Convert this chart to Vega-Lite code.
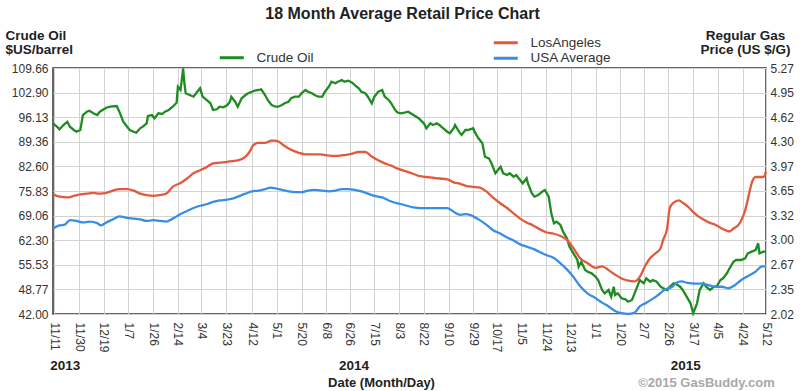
{
  "$schema": "https://vega.github.io/schema/vega-lite/v6.json",
  "width": 713,
  "height": 246,
  "autosize": {"type": "none"},
  "padding": {"left": 53, "top": 68, "right": 34, "bottom": 77},
  "config": {
    "font": "Liberation Sans, Arial, sans-serif",
    "view": {"stroke": "#333333", "strokeWidth": 1.5},
    "axis": {"labelFontSize": 12, "labelColor": "#333333", "domain": false, "ticks": false, "gridColor": "#d2d2d2", "gridWidth": 1, "titleColor": "#222222"},
    "legend": {"padding": 0}
  },
  "title": {"text": "18 Month Average Retail Price Chart", "fontSize": 16, "fontWeight": "bold", "color": "#222222", "anchor": "middle", "frame": "group", "dx": -7, "offset": 6},
  "datasets": {
    "crude": [
      {"date":"2013-11-10","price":94.45},{"date":"2013-11-13","price":93.52},{"date":"2013-11-15","price":92.80},{"date":"2013-11-18","price":93.98},{"date":"2013-11-21","price":94.89},{"date":"2013-11-23","price":93.52},{"date":"2013-11-26","price":92.61},{"date":"2013-11-28","price":92.14},{"date":"2013-12-01","price":92.61},{"date":"2013-12-03","price":96.73},{"date":"2013-12-06","price":97.64},{"date":"2013-12-08","price":97.92},{"date":"2013-12-11","price":97.20},{"date":"2013-12-14","price":96.73},{"date":"2013-12-16","price":97.64},{"date":"2013-12-19","price":98.30},{"date":"2013-12-21","price":98.74},{"date":"2013-12-24","price":99.02},{"date":"2013-12-29","price":99.21},{"date":"2013-12-31","price":97.64},
      {"date":"2014-01-03","price":94.89},{"date":"2014-01-06","price":93.52},{"date":"2014-01-08","price":92.61},{"date":"2014-01-11","price":92.14},{"date":"2014-01-13","price":91.86},{"date":"2014-01-16","price":93.08},{"date":"2014-01-18","price":93.52},{"date":"2014-01-21","price":94.45},{"date":"2014-01-22","price":96.46},{"date":"2014-01-25","price":96.73},{"date":"2014-01-27","price":95.83},{"date":"2014-01-30","price":97.20},{"date":"2014-02-02","price":97.01},{"date":"2014-02-04","price":97.64},{"date":"2014-02-07","price":98.11},{"date":"2014-02-10","price":99.02},{"date":"2014-02-13","price":100.12},{"date":"2014-02-14","price":104.52},{"date":"2014-02-16","price":103.61},{"date":"2014-02-17","price":106.36},{"date":"2014-02-18","price":109.58},{"date":"2014-02-19","price":105.45},{"date":"2014-02-20","price":102.70},{"date":"2014-02-23","price":102.23},{"date":"2014-02-26","price":101.77},{"date":"2014-02-28","price":102.70},
      {"date":"2014-03-03","price":104.08},{"date":"2014-03-05","price":101.77},{"date":"2014-03-08","price":100.86},{"date":"2014-03-11","price":99.95},{"date":"2014-03-13","price":98.11},{"date":"2014-03-16","price":98.30},{"date":"2014-03-18","price":99.02},{"date":"2014-03-21","price":98.85},{"date":"2014-03-24","price":99.48},{"date":"2014-03-26","price":100.39},{"date":"2014-03-27","price":101.77},{"date":"2014-03-30","price":100.39},{"date":"2014-04-01","price":99.02},{"date":"2014-04-04","price":101.33},{"date":"2014-04-07","price":102.23},{"date":"2014-04-09","price":102.70},{"date":"2014-04-12","price":103.14},{"date":"2014-04-14","price":103.42},{"date":"2014-04-17","price":103.61},{"date":"2014-04-19","price":103.80},{"date":"2014-04-22","price":102.23},{"date":"2014-04-24","price":100.86},{"date":"2014-04-27","price":99.48},{"date":"2014-04-30","price":99.02},
      {"date":"2014-05-02","price":99.02},{"date":"2014-05-05","price":99.48},{"date":"2014-05-07","price":99.95},{"date":"2014-05-10","price":100.39},{"date":"2014-05-12","price":101.33},{"date":"2014-05-15","price":101.77},{"date":"2014-05-18","price":101.77},{"date":"2014-05-20","price":102.70},{"date":"2014-05-23","price":103.61},{"date":"2014-05-25","price":103.14},{"date":"2014-05-28","price":102.70},{"date":"2014-05-30","price":102.23},{"date":"2014-06-02","price":101.77},{"date":"2014-06-05","price":101.77},{"date":"2014-06-07","price":103.14},{"date":"2014-06-10","price":104.52},{"date":"2014-06-12","price":105.89},{"date":"2014-06-15","price":105.45},{"date":"2014-06-17","price":105.89},{"date":"2014-06-20","price":106.36},{"date":"2014-06-22","price":105.89},{"date":"2014-06-25","price":106.17},{"date":"2014-06-28","price":105.62},{"date":"2014-06-30","price":104.98},
      {"date":"2014-07-03","price":104.08},{"date":"2014-07-05","price":103.14},{"date":"2014-07-08","price":102.70},{"date":"2014-07-10","price":101.77},{"date":"2014-07-13","price":99.95},{"date":"2014-07-15","price":101.77},{"date":"2014-07-18","price":103.14},{"date":"2014-07-21","price":103.61},{"date":"2014-07-23","price":101.77},{"date":"2014-07-26","price":100.86},{"date":"2014-07-28","price":99.95},{"date":"2014-07-31","price":98.11},{"date":"2014-08-02","price":97.37},{"date":"2014-08-05","price":97.20},{"date":"2014-08-10","price":97.64},{"date":"2014-08-14","price":96.73},{"date":"2014-08-18","price":95.83},{"date":"2014-08-22","price":94.45},{"date":"2014-08-24","price":93.08},{"date":"2014-08-27","price":94.45},{"date":"2014-08-29","price":93.98},
      {"date":"2014-09-01","price":94.45},{"date":"2014-09-03","price":93.98},{"date":"2014-09-06","price":93.08},{"date":"2014-09-09","price":92.14},{"date":"2014-09-11","price":91.70},{"date":"2014-09-14","price":93.08},{"date":"2014-09-15","price":93.98},{"date":"2014-09-18","price":92.14},{"date":"2014-09-20","price":91.23},{"date":"2014-09-23","price":92.61},{"date":"2014-09-25","price":92.61},{"date":"2014-09-29","price":93.08},{"date":"2014-09-30","price":92.14},{"date":"2014-10-03","price":90.32},{"date":"2014-10-06","price":88.95},{"date":"2014-10-08","price":85.26},{"date":"2014-10-11","price":84.82},{"date":"2014-10-13","price":83.45},{"date":"2014-10-16","price":80.70},{"date":"2014-10-18","price":81.61},{"date":"2014-10-20","price":82.51},{"date":"2014-10-22","price":80.70},{"date":"2014-10-25","price":80.23},{"date":"2014-10-27","price":80.70},{"date":"2014-10-30","price":79.76},
      {"date":"2014-11-01","price":80.23},{"date":"2014-11-04","price":78.86},{"date":"2014-11-06","price":77.95},{"date":"2014-11-09","price":79.32},{"date":"2014-11-10","price":77.95},{"date":"2014-11-13","price":75.20},{"date":"2014-11-15","price":74.26},{"date":"2014-11-18","price":74.73},{"date":"2014-11-21","price":75.64},{"date":"2014-11-23","price":76.10},{"date":"2014-11-26","price":74.26},{"date":"2014-11-28","price":69.70},{"date":"2014-11-30","price":66.95},{"date":"2014-12-02","price":67.39},{"date":"2014-12-05","price":66.48},{"date":"2014-12-07","price":64.64},{"date":"2014-12-10","price":62.82},{"date":"2014-12-12","price":60.51},{"date":"2014-12-15","price":58.69},{"date":"2014-12-18","price":56.85},{"date":"2014-12-19","price":55.01},{"date":"2014-12-21","price":56.38},{"date":"2014-12-24","price":54.10},{"date":"2014-12-26","price":53.63},{"date":"2014-12-29","price":53.19},
      {"date":"2015-01-01","price":52.26},{"date":"2015-01-03","price":51.35},{"date":"2015-01-06","price":48.60},{"date":"2015-01-08","price":47.69},{"date":"2015-01-11","price":48.60},{"date":"2015-01-13","price":46.76},{"date":"2015-01-15","price":49.51},{"date":"2015-01-16","price":47.23},{"date":"2015-01-18","price":47.69},{"date":"2015-01-21","price":46.32},{"date":"2015-01-24","price":46.04},{"date":"2015-01-26","price":45.38},{"date":"2015-01-29","price":45.85},{"date":"2015-01-31","price":47.69},{"date":"2015-02-03","price":50.44},{"date":"2015-02-04","price":51.35},{"date":"2015-02-07","price":50.44},{"date":"2015-02-09","price":51.82},{"date":"2015-02-12","price":50.88},{"date":"2015-02-14","price":51.35},{"date":"2015-02-17","price":50.88},{"date":"2015-02-20","price":49.51},{"date":"2015-02-22","price":49.07},{"date":"2015-02-25","price":48.60},{"date":"2015-02-27","price":49.51},
      {"date":"2015-03-02","price":50.44},{"date":"2015-03-04","price":50.25},{"date":"2015-03-07","price":49.51},{"date":"2015-03-09","price":48.60},{"date":"2015-03-12","price":46.76},{"date":"2015-03-15","price":44.94},{"date":"2015-03-17","price":42.19},{"date":"2015-03-20","price":44.94},{"date":"2015-03-22","price":48.60},{"date":"2015-03-25","price":50.44},{"date":"2015-03-27","price":49.51},{"date":"2015-03-30","price":48.60},{"date":"2015-04-02","price":49.51},{"date":"2015-04-04","price":49.51},{"date":"2015-04-07","price":51.35},{"date":"2015-04-09","price":51.82},{"date":"2015-04-12","price":53.19},{"date":"2015-04-14","price":54.57},{"date":"2015-04-17","price":56.38},{"date":"2015-04-19","price":56.85},{"date":"2015-04-23","price":56.85},{"date":"2015-04-26","price":57.32},{"date":"2015-04-28","price":58.69},{"date":"2015-05-01","price":59.14},{"date":"2015-05-04","price":59.60},{"date":"2015-05-06","price":61.45},{"date":"2015-05-07","price":58.69},{"date":"2015-05-10","price":59.14},{"date":"2015-05-12","price":59.14}
    ],
    "gas": [
      {"date":"2013-11-10","series":"LosAngeles","price":3.60},{"date":"2013-11-15","series":"LosAngeles","price":3.57},{"date":"2013-11-21","series":"LosAngeles","price":3.56},{"date":"2013-11-26","series":"LosAngeles","price":3.58},{"date":"2013-12-01","series":"LosAngeles","price":3.60},{"date":"2013-12-06","series":"LosAngeles","price":3.61},{"date":"2013-12-11","series":"LosAngeles","price":3.62},{"date":"2013-12-16","series":"LosAngeles","price":3.61},{"date":"2013-12-21","series":"LosAngeles","price":3.62},{"date":"2013-12-26","series":"LosAngeles","price":3.65},{"date":"2013-12-31","series":"LosAngeles","price":3.67},
      {"date":"2014-01-06","series":"LosAngeles","price":3.67},{"date":"2014-01-11","series":"LosAngeles","price":3.65},{"date":"2014-01-16","series":"LosAngeles","price":3.61},{"date":"2014-01-21","series":"LosAngeles","price":3.59},{"date":"2014-01-26","series":"LosAngeles","price":3.58},{"date":"2014-01-31","series":"LosAngeles","price":3.59},{"date":"2014-02-05","series":"LosAngeles","price":3.61},{"date":"2014-02-10","series":"LosAngeles","price":3.70},{"date":"2014-02-16","series":"LosAngeles","price":3.75},{"date":"2014-02-21","series":"LosAngeles","price":3.81},{"date":"2014-02-26","series":"LosAngeles","price":3.88},{"date":"2014-03-03","series":"LosAngeles","price":3.92},{"date":"2014-03-08","series":"LosAngeles","price":3.96},{"date":"2014-03-13","series":"LosAngeles","price":4.01},{"date":"2014-03-18","series":"LosAngeles","price":4.02},{"date":"2014-03-24","series":"LosAngeles","price":4.03},{"date":"2014-03-27","series":"LosAngeles","price":4.04},
      {"date":"2014-04-01","series":"LosAngeles","price":4.05},{"date":"2014-04-07","series":"LosAngeles","price":4.10},{"date":"2014-04-10","series":"LosAngeles","price":4.16},{"date":"2014-04-13","series":"LosAngeles","price":4.25},{"date":"2014-04-17","series":"LosAngeles","price":4.28},{"date":"2014-04-22","series":"LosAngeles","price":4.28},{"date":"2014-04-27","series":"LosAngeles","price":4.31},{"date":"2014-04-30","series":"LosAngeles","price":4.31},{"date":"2014-05-02","series":"LosAngeles","price":4.30},{"date":"2014-05-07","series":"LosAngeles","price":4.24},{"date":"2014-05-12","series":"LosAngeles","price":4.19},{"date":"2014-05-18","series":"LosAngeles","price":4.15},{"date":"2014-05-23","series":"LosAngeles","price":4.13},{"date":"2014-05-28","series":"LosAngeles","price":4.13},{"date":"2014-06-02","series":"LosAngeles","price":4.13},{"date":"2014-06-07","series":"LosAngeles","price":4.12},{"date":"2014-06-12","series":"LosAngeles","price":4.11},{"date":"2014-06-17","series":"LosAngeles","price":4.11},{"date":"2014-06-22","series":"LosAngeles","price":4.12},{"date":"2014-06-28","series":"LosAngeles","price":4.14},
      {"date":"2014-07-03","series":"LosAngeles","price":4.16},{"date":"2014-07-08","series":"LosAngeles","price":4.16},{"date":"2014-07-13","series":"LosAngeles","price":4.10},{"date":"2014-07-18","series":"LosAngeles","price":4.05},{"date":"2014-07-23","series":"LosAngeles","price":4.01},{"date":"2014-07-28","series":"LosAngeles","price":3.98},{"date":"2014-08-02","series":"LosAngeles","price":3.94},{"date":"2014-08-09","series":"LosAngeles","price":3.90},{"date":"2014-08-14","series":"LosAngeles","price":3.87},{"date":"2014-08-19","series":"LosAngeles","price":3.84},{"date":"2014-08-24","series":"LosAngeles","price":3.83},{"date":"2014-08-29","series":"LosAngeles","price":3.82},{"date":"2014-09-03","series":"LosAngeles","price":3.81},{"date":"2014-09-09","series":"LosAngeles","price":3.80},{"date":"2014-09-14","series":"LosAngeles","price":3.76},{"date":"2014-09-19","series":"LosAngeles","price":3.74},{"date":"2014-09-24","series":"LosAngeles","price":3.71},{"date":"2014-09-29","series":"LosAngeles","price":3.70},
      {"date":"2014-10-04","series":"LosAngeles","price":3.69},{"date":"2014-10-09","series":"LosAngeles","price":3.64},{"date":"2014-10-14","series":"LosAngeles","price":3.56},{"date":"2014-10-20","series":"LosAngeles","price":3.48},{"date":"2014-10-25","series":"LosAngeles","price":3.42},{"date":"2014-10-30","series":"LosAngeles","price":3.35},{"date":"2014-11-04","series":"LosAngeles","price":3.28},{"date":"2014-11-09","series":"LosAngeles","price":3.23},{"date":"2014-11-14","series":"LosAngeles","price":3.19},{"date":"2014-11-19","series":"LosAngeles","price":3.14},{"date":"2014-11-24","series":"LosAngeles","price":3.10},{"date":"2014-11-30","series":"LosAngeles","price":3.08},{"date":"2014-12-05","series":"LosAngeles","price":3.05},{"date":"2014-12-10","series":"LosAngeles","price":3.00},{"date":"2014-12-15","series":"LosAngeles","price":2.89},{"date":"2014-12-20","series":"LosAngeles","price":2.76},{"date":"2014-12-26","series":"LosAngeles","price":2.69},
      {"date":"2015-01-01","series":"LosAngeles","price":2.63},{"date":"2015-01-06","series":"LosAngeles","price":2.65},{"date":"2015-01-11","series":"LosAngeles","price":2.60},{"date":"2015-01-16","series":"LosAngeles","price":2.54},{"date":"2015-01-21","series":"LosAngeles","price":2.49},{"date":"2015-01-26","series":"LosAngeles","price":2.46},{"date":"2015-01-31","series":"LosAngeles","price":2.45},{"date":"2015-02-04","series":"LosAngeles","price":2.51},{"date":"2015-02-08","series":"LosAngeles","price":2.65},{"date":"2015-02-12","series":"LosAngeles","price":2.76},{"date":"2015-02-16","series":"LosAngeles","price":2.82},{"date":"2015-02-20","series":"LosAngeles","price":2.89},{"date":"2015-02-22","series":"LosAngeles","price":3.00},{"date":"2015-02-25","series":"LosAngeles","price":3.15},{"date":"2015-02-27","series":"LosAngeles","price":3.42},{"date":"2015-03-02","series":"LosAngeles","price":3.49},{"date":"2015-03-06","series":"LosAngeles","price":3.52},{"date":"2015-03-09","series":"LosAngeles","price":3.49},{"date":"2015-03-13","series":"LosAngeles","price":3.44},{"date":"2015-03-17","series":"LosAngeles","price":3.37},{"date":"2015-03-21","series":"LosAngeles","price":3.31},{"date":"2015-03-25","series":"LosAngeles","price":3.27},{"date":"2015-03-29","series":"LosAngeles","price":3.23},
      {"date":"2015-04-03","series":"LosAngeles","price":3.20},{"date":"2015-04-08","series":"LosAngeles","price":3.15},{"date":"2015-04-14","series":"LosAngeles","price":3.11},{"date":"2015-04-17","series":"LosAngeles","price":3.15},{"date":"2015-04-21","series":"LosAngeles","price":3.20},{"date":"2015-04-23","series":"LosAngeles","price":3.26},{"date":"2015-04-26","series":"LosAngeles","price":3.39},{"date":"2015-04-28","series":"LosAngeles","price":3.53},{"date":"2015-05-01","series":"LosAngeles","price":3.75},{"date":"2015-05-04","series":"LosAngeles","price":3.83},{"date":"2015-05-07","series":"LosAngeles","price":3.83},{"date":"2015-05-10","series":"LosAngeles","price":3.83},{"date":"2015-05-12","series":"LosAngeles","price":3.90},
      {"date":"2013-11-10","series":"USA Average","price":3.15},{"date":"2013-11-15","series":"USA Average","price":3.19},{"date":"2013-11-19","series":"USA Average","price":3.20},{"date":"2013-11-23","series":"USA Average","price":3.26},{"date":"2013-11-28","series":"USA Average","price":3.25},{"date":"2013-12-03","series":"USA Average","price":3.23},{"date":"2013-12-08","series":"USA Average","price":3.24},{"date":"2013-12-14","series":"USA Average","price":3.22},{"date":"2013-12-17","series":"USA Average","price":3.19},{"date":"2013-12-21","series":"USA Average","price":3.23},{"date":"2013-12-26","series":"USA Average","price":3.27},{"date":"2013-12-31","series":"USA Average","price":3.31},
      {"date":"2014-01-06","series":"USA Average","price":3.29},{"date":"2014-01-11","series":"USA Average","price":3.28},{"date":"2014-01-16","series":"USA Average","price":3.27},{"date":"2014-01-21","series":"USA Average","price":3.25},{"date":"2014-01-26","series":"USA Average","price":3.26},{"date":"2014-01-31","series":"USA Average","price":3.25},{"date":"2014-02-05","series":"USA Average","price":3.24},{"date":"2014-02-10","series":"USA Average","price":3.28},{"date":"2014-02-16","series":"USA Average","price":3.34},{"date":"2014-02-21","series":"USA Average","price":3.38},{"date":"2014-02-26","series":"USA Average","price":3.42},{"date":"2014-03-03","series":"USA Average","price":3.45},{"date":"2014-03-08","series":"USA Average","price":3.47},{"date":"2014-03-13","series":"USA Average","price":3.50},{"date":"2014-03-18","series":"USA Average","price":3.52},{"date":"2014-03-24","series":"USA Average","price":3.53},{"date":"2014-03-27","series":"USA Average","price":3.54},
      {"date":"2014-04-01","series":"USA Average","price":3.57},{"date":"2014-04-07","series":"USA Average","price":3.61},{"date":"2014-04-12","series":"USA Average","price":3.64},{"date":"2014-04-17","series":"USA Average","price":3.65},{"date":"2014-04-22","series":"USA Average","price":3.67},{"date":"2014-04-26","series":"USA Average","price":3.69},{"date":"2014-04-30","series":"USA Average","price":3.68},{"date":"2014-05-05","series":"USA Average","price":3.66},{"date":"2014-05-10","series":"USA Average","price":3.64},{"date":"2014-05-15","series":"USA Average","price":3.63},{"date":"2014-05-20","series":"USA Average","price":3.63},{"date":"2014-05-25","series":"USA Average","price":3.65},{"date":"2014-05-30","series":"USA Average","price":3.66},{"date":"2014-06-05","series":"USA Average","price":3.65},{"date":"2014-06-10","series":"USA Average","price":3.64},{"date":"2014-06-15","series":"USA Average","price":3.65},{"date":"2014-06-20","series":"USA Average","price":3.67},{"date":"2014-06-25","series":"USA Average","price":3.67},{"date":"2014-06-30","series":"USA Average","price":3.66},
      {"date":"2014-07-05","series":"USA Average","price":3.64},{"date":"2014-07-10","series":"USA Average","price":3.61},{"date":"2014-07-15","series":"USA Average","price":3.58},{"date":"2014-07-21","series":"USA Average","price":3.56},{"date":"2014-07-26","series":"USA Average","price":3.52},{"date":"2014-07-31","series":"USA Average","price":3.49},{"date":"2014-08-05","series":"USA Average","price":3.47},{"date":"2014-08-09","series":"USA Average","price":3.45},{"date":"2014-08-14","series":"USA Average","price":3.43},{"date":"2014-08-19","series":"USA Average","price":3.42},{"date":"2014-08-24","series":"USA Average","price":3.42},{"date":"2014-08-29","series":"USA Average","price":3.42},{"date":"2014-09-03","series":"USA Average","price":3.42},{"date":"2014-09-09","series":"USA Average","price":3.42},{"date":"2014-09-14","series":"USA Average","price":3.37},{"date":"2014-09-19","series":"USA Average","price":3.33},{"date":"2014-09-24","series":"USA Average","price":3.34},{"date":"2014-09-29","series":"USA Average","price":3.31},
      {"date":"2014-10-04","series":"USA Average","price":3.26},{"date":"2014-10-09","series":"USA Average","price":3.20},{"date":"2014-10-14","series":"USA Average","price":3.13},{"date":"2014-10-20","series":"USA Average","price":3.08},{"date":"2014-10-25","series":"USA Average","price":3.03},{"date":"2014-10-30","series":"USA Average","price":2.99},{"date":"2014-11-04","series":"USA Average","price":2.94},{"date":"2014-11-09","series":"USA Average","price":2.91},{"date":"2014-11-14","series":"USA Average","price":2.88},{"date":"2014-11-19","series":"USA Average","price":2.84},{"date":"2014-11-24","series":"USA Average","price":2.80},{"date":"2014-11-30","series":"USA Average","price":2.76},{"date":"2014-12-05","series":"USA Average","price":2.69},{"date":"2014-12-10","series":"USA Average","price":2.61},{"date":"2014-12-15","series":"USA Average","price":2.51},{"date":"2014-12-20","series":"USA Average","price":2.39},{"date":"2014-12-26","series":"USA Average","price":2.29},
      {"date":"2015-01-01","series":"USA Average","price":2.23},{"date":"2015-01-06","series":"USA Average","price":2.17},{"date":"2015-01-11","series":"USA Average","price":2.12},{"date":"2015-01-16","series":"USA Average","price":2.06},{"date":"2015-01-21","series":"USA Average","price":2.03},{"date":"2015-01-26","series":"USA Average","price":2.02},{"date":"2015-01-31","series":"USA Average","price":2.04},{"date":"2015-02-04","series":"USA Average","price":2.12},{"date":"2015-02-08","series":"USA Average","price":2.16},{"date":"2015-02-13","series":"USA Average","price":2.21},{"date":"2015-02-18","series":"USA Average","price":2.27},{"date":"2015-02-23","series":"USA Average","price":2.34},{"date":"2015-03-01","series":"USA Average","price":2.38},{"date":"2015-03-04","series":"USA Average","price":2.43},{"date":"2015-03-08","series":"USA Average","price":2.45},{"date":"2015-03-13","series":"USA Average","price":2.43},{"date":"2015-03-18","series":"USA Average","price":2.42},{"date":"2015-03-24","series":"USA Average","price":2.42},{"date":"2015-03-29","series":"USA Average","price":2.40},
      {"date":"2015-04-03","series":"USA Average","price":2.38},{"date":"2015-04-08","series":"USA Average","price":2.38},{"date":"2015-04-13","series":"USA Average","price":2.36},{"date":"2015-04-18","series":"USA Average","price":2.40},{"date":"2015-04-23","series":"USA Average","price":2.47},{"date":"2015-04-28","series":"USA Average","price":2.52},{"date":"2015-05-04","series":"USA Average","price":2.58},{"date":"2015-05-09","series":"USA Average","price":2.65},{"date":"2015-05-12","series":"USA Average","price":2.65}
    ]
  },
  "layer": [
    {
      "data": {"name": "crude"},
      "mark": {"type": "line", "strokeWidth": 2.3, "interpolate": "linear"},
      "encoding": {
        "x": {
          "field": "date", "type": "temporal",
          "scale": {"type": "utc", "domain": [{"year": 2013, "month": 11, "date": 10, "utc": true}, {"year": 2015, "month": 5, "date": 12, "utc": true}]},
          "axis": {
            "orient": "bottom",
            "values": [
              {"year":2013,"month":11,"date":11,"utc":true},{"year":2013,"month":11,"date":30,"utc":true},{"year":2013,"month":12,"date":19,"utc":true},
              {"year":2014,"month":1,"date":7,"utc":true},{"year":2014,"month":1,"date":26,"utc":true},{"year":2014,"month":2,"date":14,"utc":true},{"year":2014,"month":3,"date":4,"utc":true},{"year":2014,"month":3,"date":23,"utc":true},{"year":2014,"month":4,"date":12,"utc":true},{"year":2014,"month":5,"date":1,"utc":true},{"year":2014,"month":5,"date":20,"utc":true},{"year":2014,"month":6,"date":8,"utc":true},{"year":2014,"month":6,"date":26,"utc":true},{"year":2014,"month":7,"date":15,"utc":true},{"year":2014,"month":8,"date":3,"utc":true},{"year":2014,"month":8,"date":22,"utc":true},{"year":2014,"month":9,"date":10,"utc":true},{"year":2014,"month":9,"date":29,"utc":true},{"year":2014,"month":10,"date":17,"utc":true},{"year":2014,"month":11,"date":5,"utc":true},{"year":2014,"month":11,"date":24,"utc":true},{"year":2014,"month":12,"date":13,"utc":true},
              {"year":2015,"month":1,"date":1,"utc":true},{"year":2015,"month":1,"date":20,"utc":true},{"year":2015,"month":2,"date":7,"utc":true},{"year":2015,"month":2,"date":26,"utc":true},{"year":2015,"month":3,"date":17,"utc":true},{"year":2015,"month":4,"date":5,"utc":true},{"year":2015,"month":4,"date":24,"utc":true},{"year":2015,"month":5,"date":12,"utc":true}
            ],
            "format": "%-m/%-d",
            "labelAngle": 90, "labelAlign": "left", "labelBaseline": "middle", "labelPadding": 8,
            "labelFontSize": 12, "labelOverlap": false, "labelFlush": false,
            "grid": true,
            "title": "©2015 GasBuddy.com", "titleX": 653, "titleY": 68, "titleAlign": "center", "titleBaseline": "middle",
            "titleColor": "#a8a8a8", "titleFontSize": 13, "titleFontWeight": "bold"
          }
        },
        "y": {
          "field": "price", "type": "quantitative",
          "scale": {"domain": [42, 109.66], "nice": false, "zero": false},
          "axis": {
            "orient": "left",
            "values": [42, 48.77, 55.53, 62.3, 69.06, 75.83, 82.6, 89.36, 96.13, 102.9, 109.66],
            "format": ".2f", "labelPadding": 5, "grid": true,
            "title": ["Crude Oil", "$US/barrel"], "titleAngle": 0, "titleAlign": "left", "titleBaseline": "top",
            "titleX": -48, "titleY": -40, "titleFontSize": 13.5, "titleFontWeight": "bold", "titleLineHeight": 14.5
          }
        },
        "color": {
          "datum": "Crude Oil",
          "scale": {"domain": ["Crude Oil"], "range": ["#1f8c22"]},
          "legend": {
            "orient": "none", "legendX": 172, "legendY": -17, "title": null,
            "symbolType": "M-2.4,0H2.4", "symbolSize": 100, "symbolStrokeWidth": 3,
            "labelFontSize": 13.5, "labelColor": "#333333", "labelOffset": 18
          }
        }
      }
    },
    {
      "data": {"name": "gas"},
      "mark": {"type": "line", "strokeWidth": 2.3, "interpolate": "monotone"},
      "encoding": {
        "x": {
          "field": "date", "type": "temporal",
          "scale": {"type": "utc", "domain": [{"year": 2013, "month": 11, "date": 10, "utc": true}, {"year": 2015, "month": 5, "date": 12, "utc": true}]},
          "axis": {
            "orient": "bottom",
            "values": [{"year":2013,"month":11,"date":19,"utc":true},{"year":2014,"month":6,"date":29,"utc":true},{"year":2015,"month":3,"date":11,"utc":true}],
            "labelExpr": "utcFormat(datum.value, '%Y')",
            "labelAngle": 0, "labelAlign": "center", "labelBaseline": "top", "labelPadding": 44,
            "labelFontSize": 13.5, "labelFontWeight": "bold", "labelColor": "#222222", "labelOverlap": false, "labelFlush": false,
            "grid": false,
            "title": "Date (Month/Day)", "titleX": 328, "titleY": 68, "titleAlign": "center", "titleBaseline": "middle",
            "titleFontSize": 13, "titleFontWeight": "bold"
          }
        },
        "y": {
          "field": "price", "type": "quantitative",
          "scale": {"domain": [2.02, 5.27], "nice": false, "zero": false},
          "axis": {
            "orient": "right",
            "values": [2.02, 2.35, 2.67, 3.0, 3.32, 3.65, 3.97, 4.3, 4.62, 4.95, 5.27],
            "format": ".2f", "labelPadding": 4, "grid": false,
            "title": ["Regular Gas", "Price (US $/G)"], "titleAngle": 0, "titleAlign": "center", "titleBaseline": "top",
            "titleX": -21, "titleY": -40, "titleFontSize": 13.5, "titleFontWeight": "bold", "titleLineHeight": 14.5
          }
        },
        "color": {
          "field": "series", "type": "nominal",
          "scale": {"domain": ["LosAngeles", "USA Average"], "range": ["#e25a3e", "#3a8de4"]},
          "legend": {
            "orient": "none", "legendX": 446, "legendY": -32, "title": null,
            "symbolType": "M-2.4,0H2.4", "symbolSize": 100, "symbolStrokeWidth": 3,
            "labelFontSize": 13.5, "labelColor": "#333333", "labelOffset": 18, "rowPadding": 0.5
          }
        }
      }
    }
  ],
  "resolve": {"scale": {"y": "independent", "color": "independent"}, "axis": {"x": "independent"}}
}
